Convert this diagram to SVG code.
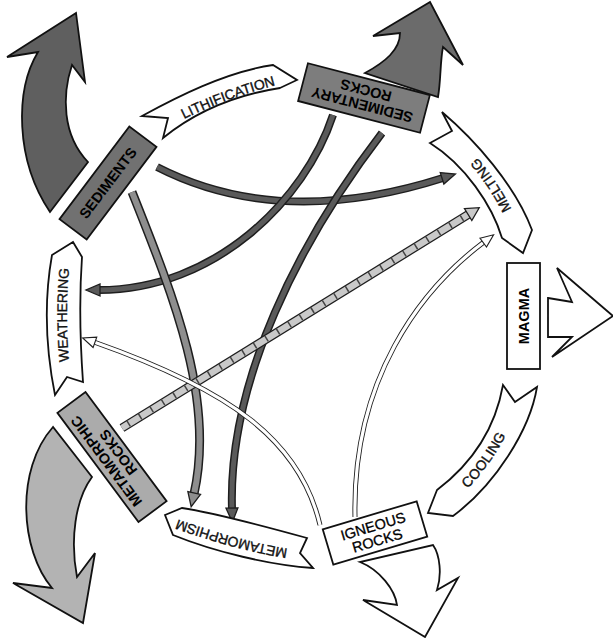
<svg xmlns="http://www.w3.org/2000/svg" width="613" height="638" viewBox="0 0 613 638">
<style>
.sh{stroke:#111;stroke-width:1.8;stroke-linejoin:miter}
.rib{fill:#fff}
.lbl{font-family:"Liberation Sans",Arial,Helvetica,sans-serif;font-size:14px;fill:#111;stroke:#111;stroke-width:0.35}
.bx{font-family:"Liberation Sans",Arial,Helvetica,sans-serif;font-size:14.5px;font-weight:bold;fill:#000;text-anchor:middle;dominant-baseline:central}
.bxr{font-family:"Liberation Sans",Arial,Helvetica,sans-serif;font-size:14.5px;fill:#000;stroke:#000;stroke-width:0.3;text-anchor:middle;dominant-baseline:central}
.o{fill:none;stroke:#1e1e1e}
.dk{fill:none;stroke:#5a5a5a}
.md{fill:none;stroke:#8e8e8e}
.lt{fill:none;stroke:#c9c9c9}
.wh{fill:none;stroke:#fff}
</style>
<defs>
<marker id="hDark" markerUnits="userSpaceOnUse" viewBox="0 -10 20 20" markerWidth="20" markerHeight="20" refX="1" refY="0" orient="auto" overflow="visible">
<path d="M0,-6 L14,0 L0,6 Z" fill="#5a5a5a" stroke="#1e1e1e" stroke-width="1.3"/>
</marker>
<marker id="hMid" markerUnits="userSpaceOnUse" viewBox="0 -10 20 20" markerWidth="20" markerHeight="20" refX="1" refY="0" orient="auto" overflow="visible">
<path d="M0,-6.5 L14,0 L0,6.5 Z" fill="#8e8e8e" stroke="#1e1e1e" stroke-width="1.3"/>
</marker>
<marker id="hLight" markerUnits="userSpaceOnUse" viewBox="0 -10 20 20" markerWidth="20" markerHeight="20" refX="1" refY="0" orient="auto" overflow="visible">
<path d="M0,-7 L13,0 L0,7 Z" fill="#c9c9c9" stroke="#1e1e1e" stroke-width="1.3"/>
</marker>
<marker id="hWhite" markerUnits="userSpaceOnUse" viewBox="0 -10 20 20" markerWidth="20" markerHeight="20" refX="1" refY="0" orient="auto" overflow="visible">
<path d="M0,-5.5 L13,0 L0,5.5 Z" fill="#fff" stroke="#1e1e1e" stroke-width="1.1"/>
</marker>
<path id="tpLith" d="M166,123 Q 220,93 292,76"/>
<path id="tpMelt" d="M520,242 Q 498,180 450,137"/>
<path id="tpCool" d="M440,505 Q 485,475 515,405"/>
<path id="tpMeta" d="M295,555 Q 235,546 168,521"/>
<path id="tpWeat" d="M66,380 Q 58,315 66,250"/>
</defs>
<rect width="613" height="638" fill="#fff"/>

<g id="connectors">
  <g id="c-sed-melt">
    <path class="o" stroke-width="8" d="M157,167 Q 280,230 443,178"/>
    <path class="dk" stroke-width="5" d="M157,167 Q 280,230 443,178" marker-end="url(#hDark)"/>
  </g>
  <g id="c-sedrock-weath">
    <path class="o" stroke-width="8" d="M333,115 C 305,200 215,290 99,290"/>
    <path class="dk" stroke-width="5" d="M333,115 C 305,200 215,290 99,290" marker-end="url(#hDark)"/>
  </g>
  <g id="c-sed-metam">
    <path class="o" stroke-width="9" d="M132,192 C 175,300 215,400 194,494"/>
    <path class="md" stroke-width="6" d="M132,192 C 175,300 215,400 194,494" marker-end="url(#hMid)"/>
  </g>
  <g id="c-sedrock-metam">
    <path class="o" stroke-width="8" d="M382,133 C 300,240 228,380 232,509"/>
    <path class="dk" stroke-width="5" d="M382,133 C 300,240 228,380 232,509" marker-end="url(#hDark)"/>
  </g>
  <g id="c-metrock-melt">
    <path class="o" stroke-width="9" d="M122,428 L469,214"/>
    <path class="lt" stroke-width="6.5" d="M122,428 L469,214" marker-end="url(#hLight)"/>
    <path fill="none" stroke="#444" stroke-width="6.5" stroke-dasharray="1.5 12" d="M128,424 L467,215"/>
  </g>
  <g id="c-ign-weath">
    <path class="o" stroke-width="5" d="M320,525 C 300,440 230,390 94,342"/>
    <path class="wh" stroke-width="3.2" d="M320,525 C 300,440 230,390 94,342" marker-end="url(#hWhite)"/>
  </g>
  <g id="c-ign-melt">
    <path class="o" stroke-width="5" d="M355,517 C 352,380 420,290 484,242"/>
    <path class="wh" stroke-width="3.2" d="M355,517 C 352,380 420,290 484,242" marker-end="url(#hWhite)"/>
  </g>
</g>

<g id="lithification">
  <path class="sh rib" d="M142,116 C 175,98 225,72 273,65 L297,80 L280,88 C 235,95 195,112 163,138 L168,118 Z"/>
  <text class="lbl" dy="5"><textPath href="#tpLith" startOffset="50%" text-anchor="middle">LITHIFICATION</textPath></text>
</g>
<g id="melting">
  <path class="sh rib" d="M442,112 C 475,140 515,185 532,230 L523,253 L502,238 C 492,205 465,165 430,143 L452,131 Z"/>
  <text class="lbl" dy="5"><textPath href="#tpMelt" startOffset="50%" text-anchor="middle">MELTING</textPath></text>
</g>
<g id="cooling">
  <path class="sh rib" d="M537,387 C 530,430 495,485 453,516 L428,513 L437,490 C 470,465 495,430 503,385 L515,402 Z"/>
  <text class="lbl" dy="5"><textPath href="#tpCool" startOffset="50%" text-anchor="middle">COOLING</textPath></text>
</g>
<g id="metamorphism">
  <path class="sh rib" d="M165,515 L182,508 C 210,512 260,525 307,538 L300,553 L313,568 C 270,565 215,552 173,535 Z"/>
  <text class="lbl" dy="5"><textPath href="#tpMeta" startOffset="50%" text-anchor="middle">METAMORPHISM</textPath></text>
</g>
<g id="weathering">
  <path class="sh rib" d="M73,242 L82,257 C 79,300 80,340 83,382 L67,377 L55,395 C 46,350 44,300 52,255 Z"/>
  <text class="lbl" dy="5"><textPath href="#tpWeat" startOffset="50%" text-anchor="middle">WEATHERING</textPath></text>
</g>

<g id="arrow-out-sediments">
  <path class="sh" fill="#5f5f5f" d="M50,212 C 15,160 15,90 38,52 L7,57 L76,13 L85,82 L72,65 C 62,95 62,135 88,162 Z"/>
</g>
<g id="arrow-out-sedrocks">
  <path class="sh" fill="#6b6b6b" d="M365,73 C 385,62 400,50 400,33 L373,36 L430,2 L463,65 L443,47 C 440,62 441,80 438,97 Z"/>
</g>
<g id="arrow-out-metrocks">
  <path class="sh" fill="#b3b3b3" d="M53,427 C 15,470 20,550 52,588 L13,583 L83,623 L95,553 L77,577 C 70,540 75,500 92,477 Z"/>
</g>
<g id="arrow-out-igneous">
  <path class="sh" fill="#fff" d="M360,562 C 380,570 395,590 397,605 L363,600 L425,637 L458,578 L437,590 C 442,575 440,555 433,545 Z"/>
</g>
<g id="arrow-out-magma">
  <path class="sh" fill="#fff" d="M548,298 L572,302 L557,268 L613,316 L552,357 L572,337 L548,337 Z"/>
</g>

<g id="sediments" transform="translate(108,183) rotate(-53)">
  <rect class="sh" x="-58" y="-17" width="116" height="34" fill="#717171"/>
  <text class="bx" x="0" y="0">SEDIMENTS</text>
</g>
<g id="sedimentary-rocks" transform="translate(364,98) rotate(194.6)">
  <rect class="sh" x="-63" y="-19.5" width="126" height="39" fill="#7d7d7d"/>
  <text class="bx" x="0" y="-7">SEDIMENTARY</text>
  <text class="bx" x="0" y="8">ROCKS</text>
</g>
<g id="magma">
  <rect class="sh" x="507" y="263" width="33" height="106" fill="#fff"/>
  <text class="bx" transform="translate(523.5,316) rotate(-90)" x="0" y="0">MAGMA</text>
</g>
<g id="igneous-rocks" transform="translate(375,533) rotate(-16.6)">
  <rect class="sh" x="-49" y="-18.5" width="98" height="37" fill="#fff"/>
  <text class="bxr" x="0" y="-7">IGNEOUS</text>
  <text class="bxr" x="0" y="8">ROCKS</text>
</g>
<g id="metamorphic-rocks" transform="translate(112,457) rotate(233.4)">
  <rect class="sh" x="-68" y="-17.5" width="136" height="35" fill="#ababab"/>
  <text class="bx" x="0" y="-7">METAMORPHIC</text>
  <text class="bx" x="0" y="8">ROCKS</text>
</g>
</svg>
